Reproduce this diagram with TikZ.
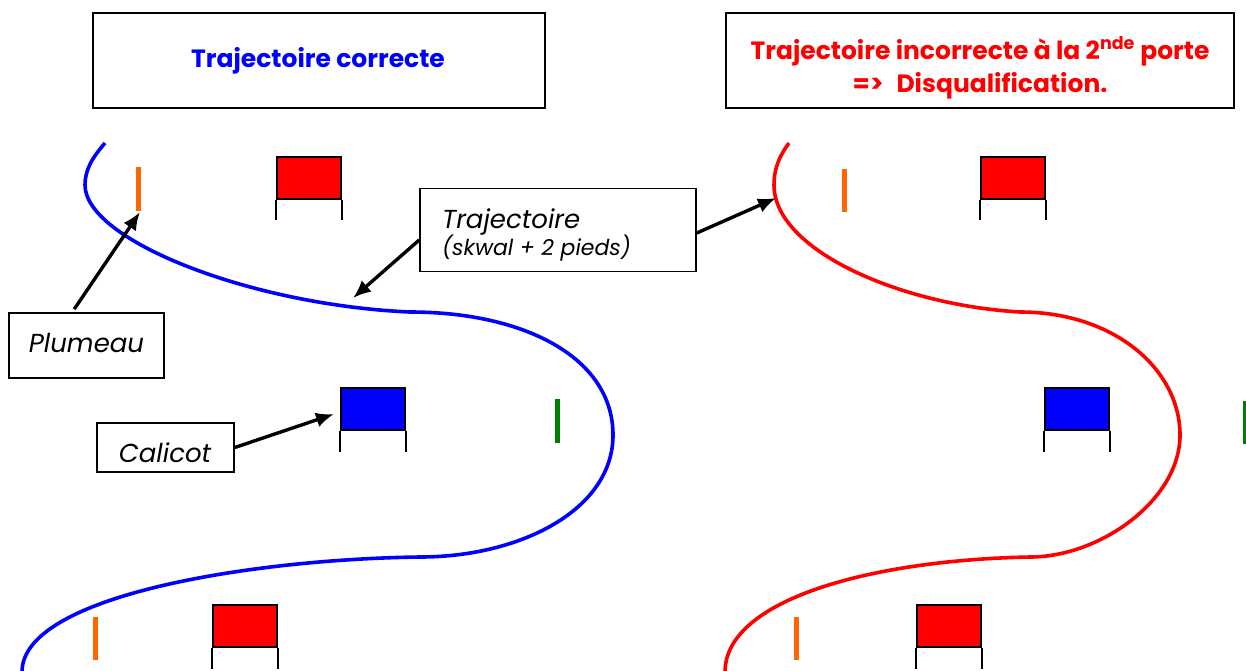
\documentclass[tikz,border=0pt]{standalone}
\usepackage{fontspec}
\setmainfont{Poppins}
\usetikzlibrary{arrows.meta}
\definecolor{plorange}{RGB}{255,102,0}
\definecolor{plgreen}{RGB}{0,128,0}
\definecolor{pblue}{RGB}{0,0,255}
\definecolor{pred}{RGB}{255,0,0}
\tikzset{
  titlebox/.style={draw=black, line width=2pt, minimum width=#1, minimum height=95pt, inner sep=0pt},
  labbox/.style={draw=black, line width=1.6pt, inner sep=0pt},
  ttext/.style={font=\fontsize{25}{29}\selectfont\bfseries, inner sep=0pt},
  ltext/.style={font=\fontsize{26}{30}\selectfont\itshape, inner sep=0pt},
  stext/.style={font=\fontsize{22}{25}\selectfont\itshape, inner sep=0pt},
  flagbox/.style={draw=black, line width=2pt, fill=#1, minimum width=64pt, minimum height=42pt, inner sep=0pt},
  leg/.style={draw=black, line width=2pt},
  plumeau/.style={line width=5pt, color=#1},
  trackpath/.style={line width=3.6pt, color=#1},
  pointer/.style={line width=3.4pt, -{Latex[length=18pt,width=15pt]}}
}
\begin{document}
\begin{tikzpicture}[x=1pt,y=-1pt]
\useasboundingbox (0,0) rectangle (1246,670);
\clip (0,0) rectangle (1246,670);

% title boxes
\node[titlebox=452pt] (tleft) at (319,60.5) {};
\node[ttext, text=pblue, anchor=base] (tlefttxt) at (318,67) {Trajectoire correcte};
\node[titlebox=508pt] (tright) at (980,60.5) {};
\node[ttext, text=pred, anchor=base] (trighttxt1) at (980,59) {Trajectoire incorrecte à la 2\textsuperscript{nde} porte};
\node[ttext, text=pred, anchor=base] (trighttxt2) at (980,92) {=>\hspace{13pt}Disqualification.};

% label boxes
\node[labbox, minimum width=276pt, minimum height=83pt] (trajbox) at (558,230) {};
\node[ltext, anchor=base west] (trajtxt1) at (442,228) {Trajectoire};
\node[stext, anchor=base west] (trajtxt2) at (442,255) {(skwal + 2 pieds)};

\node[labbox, minimum width=155pt, minimum height=65pt] (plubox) at (86.5,345.5) {};
\node[ltext, anchor=base] (plutxt) at (86.5,352) {Plumeau};

\node[labbox, minimum width=137pt, minimum height=49pt] (calbox) at (165.5,447.5) {};
\node[ltext, anchor=base] (caltxt) at (165,462) {Calicot};

% flags (left)
\node[flagbox=pred] (fl1) at (309,178) {};
\draw[leg] (fl1.south west) -- ++(0,20);
\draw[leg] (fl1.south east) -- ++(0,20);
\node[flagbox=pblue] (fl2) at (373,409) {};
\draw[leg] (fl2.south west) -- ++(0,21);
\draw[leg] (fl2.south east) -- ++(0,21);
\node[flagbox=pred] (fl3) at (245,625.5) {};
\draw[leg] (fl3.south west) -- ++(0,21);
\draw[leg] (fl3.south east) -- ++(0,21);

% flags (right)
\node[flagbox=pred] (fr1) at (1013,178) {};
\draw[leg] (fr1.south west) -- ++(0,20);
\draw[leg] (fr1.south east) -- ++(0,20);
\node[flagbox=pblue] (fr2) at (1077,409) {};
\draw[leg] (fr2.south west) -- ++(0,21);
\draw[leg] (fr2.south east) -- ++(0,21);
\node[flagbox=pred] (fr3) at (949,625.5) {};
\draw[leg] (fr3.south west) -- ++(0,21);
\draw[leg] (fr3.south east) -- ++(0,21);

% plumeaux
\coordinate (pl1top) at (138,167); \coordinate (pl1) at (138,211);
\draw[plumeau=plorange] (pl1top) -- (pl1);
\draw[plumeau=plorange] (95,617) -- (95,660);
\draw[plumeau=plgreen] (557,399) -- (557,443);
\draw[plumeau=plorange] (844,169) -- (844,212);
\draw[plumeau=plorange] (796,617) -- (796,660);
\draw[plumeau=plgreen] (1245.5,401) -- (1245.5,444);

% trajectories
\draw[trackpath=pblue] (105,143) .. controls (92,158) and (85,170) .. (85,185)
  .. controls (85,240) and (250,305) .. (410,312)
  .. controls (525,312) and (613,358) .. (613,435)
  .. controls (613,510) and (520,557) .. (420,557)
  .. controls (255,559) and (22,595) .. (22,672);
\draw[trackpath=pred] (789,143) .. controls (778,158) and (774,170) .. (774,185)
  .. controls (774,250) and (900,305) .. (1020,312)
  .. controls (1115,312) and (1180,370) .. (1180,435)
  .. controls (1180,500) and (1100,557) .. (1030,557)
  .. controls (870,560) and (725,600) .. (725,672);

% pointers
\coordinate (bluept) at (353,298);
\coordinate (redpt) at (776,198);
\coordinate (plutip) at (140,212);
\coordinate (caltip) at (334,414);
\path (plubox.north west) ++(66,-3) coordinate (plustart);
\path (trajbox.west) ++(0,10) coordinate (trajl);
\path (trajbox.east) ++(0,3) coordinate (trajr);
\draw[pointer] (plustart) -- (plutip);
\draw[pointer] (trajl) -- (bluept);
\draw[pointer] (trajr) -- (redpt);
\draw[pointer] (calbox.east) -- (caltip);
\end{tikzpicture}
\end{document}
